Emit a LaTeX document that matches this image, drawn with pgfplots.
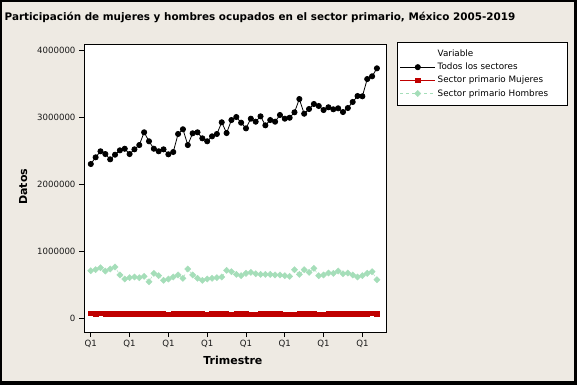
\documentclass[border=0pt]{standalone}
\usepackage{fontspec}
\setmainfont{DejaVu Sans}
\usepackage{pgfplots}
\pgfplotsset{compat=1.18}
\usepackage{pgfplotstable}
\definecolor{bg}{RGB}{238,234,227}
\definecolor{mred}{RGB}{192,0,0}
\definecolor{mgreen}{RGB}{165,222,185}

\pgfplotstableread{
i todos mujeres hombres
1 2300000 75000 710000
2 2400000 70000 725000
3 2490000 72000 755000
4 2449000 68000 705000
5 2370000 65000 735000
6 2439000 66000 765000
7 2504000 64000 646000
8 2528000 63000 586000
9 2449000 65000 606000
10 2519000 64000 616000
11 2583000 66000 606000
12 2773000 68000 626000
13 2639000 70000 546000
14 2528000 67000 670000
15 2490000 65000 636000
16 2519000 62000 566000
17 2445000 60000 586000
18 2479000 63000 616000
19 2748000 64000 646000
20 2818000 62000 596000
21 2583000 66000 735000
22 2758000 68000 646000
23 2773000 65000 596000
24 2683000 63000 566000
25 2639000 61000 586000
26 2713000 64000 596000
27 2748000 66000 606000
28 2922000 63000 616000
29 2762000 62000 715000
30 2956000 60000 695000
31 3001000 62000 655000
32 2916000 64000 636000
33 2832000 63000 670000
34 2976000 61000 685000
35 2931000 60000 665000
36 3011000 62000 655000
37 2877000 64000 655000
38 2956000 66000 655000
39 2931000 65000 646000
40 3031000 63000 646000
41 2976000 61000 636000
42 2990000 60000 626000
43 3071000 59000 725000
44 3269000 62000 655000
45 3050000 63000 725000
46 3120000 64000 685000
47 3195000 62000 745000
48 3165000 60000 636000
49 3105000 61000 646000
50 3146000 63000 675000
51 3116000 65000 670000
52 3131000 64000 705000
53 3075000 62000 665000
54 3135000 63000 675000
55 3225000 66000 646000
56 3314000 68000 616000
57 3310000 67000 636000
58 3567000 70000 670000
59 3608000 72000 695000
60 3727000 68000 576000
}\data

\begin{document}
\begin{tikzpicture}[x=1pt,y=1pt]
\useasboundingbox (0,0) rectangle (577,385);
\fill[black] (0,0) rectangle (577,385);
\fill[bg] (2,4) rectangle (574,383);
\node[font=\bfseries\fontsize{10.4}{12}\selectfont] at (260,367.5) {Participación de mujeres y hombres ocupados en el sector primario, México 2005-2019};
\begin{axis}[
  at={(84pt,53pt)}, anchor=south west,
  width=302pt, height=288pt, scale only axis,
  xmin=-0.4, xmax=61.87, ymin=-204000, ymax=4089400,
  axis background/.style={fill=white},
  axis line style={line width=0.8pt},
  every tick/.style={black, line width=0.8pt},
  tick align=outside, major tick length=5pt,
  xtick pos=bottom, ytick pos=left,
  xtick={1,9,17,25,33,41,49,57},
  xticklabels={Q1,Q1,Q1,Q1,Q1,Q1,Q1,Q1},
  ytick={0,1000000,2000000,3000000,4000000},
  scaled y ticks=false,
  /pgf/number format/assume math mode=true,
  yticklabel style={/pgf/number format/fixed, /pgf/number format/1000 sep={}},
  ticklabel style={font=\fontsize{8.6}{10}\selectfont, text=black!90},
  xlabel={Trimestre}, ylabel={Datos},
  xlabel style={at={(axis description cs:0.493,-0.0997)}, anchor=center, font=\bfseries\fontsize{11}{13}\selectfont},
  ylabel style={at={(axis description cs:-0.201,0.5045)}, anchor=center, font=\bfseries\fontsize{11}{13}\selectfont},
  legend style={at={(1.0354,1.008)}, anchor=north west, draw=black, fill=white,
    font=\fontsize{8.8}{10}\selectfont, inner xsep=3pt, inner ysep=6pt, row sep=1pt},
  legend cell align=left,
  legend image code/.code={\draw[mark repeat=2,mark phase=2,#1] plot coordinates {(0pt,0pt) (17.5pt,0pt) (35pt,0pt)};},
]
\addlegendimage{empty legend}
\addlegendentry{\makebox[124pt][l]{Variable}}
\addplot[black, line width=0.8pt, mark=*, mark size=2.6pt] table[x=i,y=todos]{\data};
\addlegendentry{Todos los sectores}
\addplot[mred, line width=0.8pt, mark=square*, mark size=2.3pt] table[x=i,y=mujeres]{\data};
\addlegendentry{Sector primario Mujeres}
\addplot[mgreen, dashed, line width=0.4pt, mark=square*, mark size=2.2pt, mark options={solid, rotate=45}] table[x=i,y=hombres]{\data};
\addlegendentry{Sector primario Hombres}
\end{axis}
\end{tikzpicture}
\end{document}
